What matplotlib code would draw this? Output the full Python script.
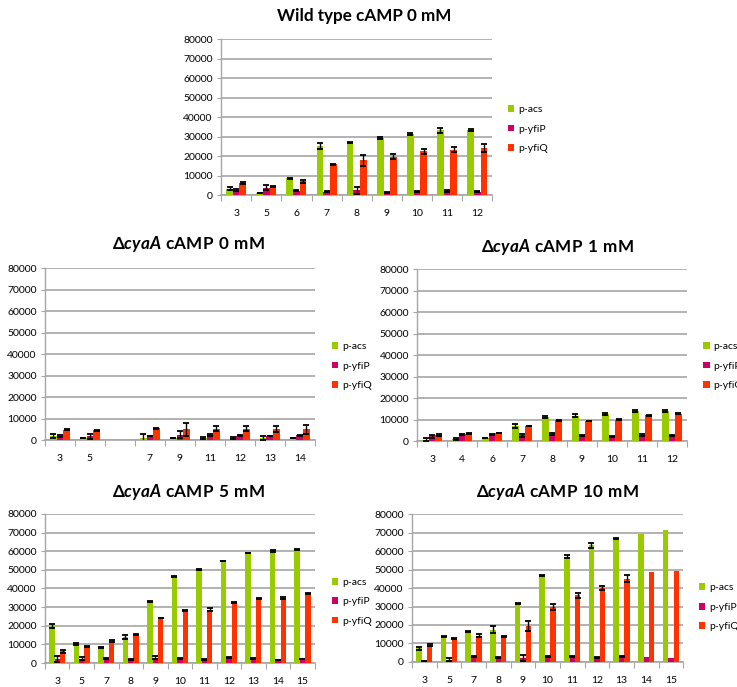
import numpy as np
import matplotlib
matplotlib.use("Agg")
import matplotlib.pyplot as plt
from matplotlib.patches import Patch

plt.rcParams['font.family'] = ['Lato', 'DejaVu Sans']
plt.rcParams['mathtext.fontset'] = 'custom'
plt.rcParams['mathtext.bf'] = 'Lato:bold'
plt.rcParams['mathtext.bfit'] = 'Lato:italic:bold'
plt.rcParams['mathtext.rm'] = 'Lato'

series_names = ["p-acs", "p-yfiP", "p-yfiQ"]
series_colors = ["#99cc00", "#cc0066", "#ff3300"]

# Wild type, cAMP 0 mM
wt_labels = ["3", "5", "6", "7", "8", "9", "10", "11", "12"]
wt_acs = [3300, 1000, 8600, 25000, 27000, 29300, 31400, 33200, 33400]
wt_acs_err = [800, 100, 300, 1500, 300, 500, 700, 1200, 300]
wt_yfiP = [2800, 3800, 2200, 1800, 2500, 1400, 1800, 2000, 1700]
wt_yfiP_err = [500, 1200, 300, 200, 1800, 200, 200, 500, 200]
wt_yfiQ = [6100, 4500, 7000, 15900, 17800, 19800, 22500, 23300, 24000]
wt_yfiQ_err = [400, 400, 900, 200, 2800, 1500, 1300, 1400, 2000]

# cyaA deletion, cAMP 0 mM (one empty slot in the series)
c0_labels = ["3", "5", "", "7", "9", "11", "12", "13", "14"]
c0_acs = [1900, 900, np.nan, 1000, 900, 1000, 1000, 1000, 900]
c0_acs_err = [800, 100, np.nan, 1800, 100, 300, 300, 900, 100]
c0_yfiP = [2000, 1700, np.nan, 1900, 2500, 2300, 2100, 1900, 2200]
c0_yfiP_err = [400, 1000, np.nan, 100, 1500, 300, 100, 100, 100]
c0_yfiQ = [4800, 4500, np.nan, 5500, 5000, 5300, 5300, 5000, 5000]
c0_yfiQ_err = [300, 200, np.nan, 200, 3000, 1200, 1200, 1400, 2000]

# cyaA deletion, cAMP 1 mM
c1_labels = ["3", "4", "6", "7", "8", "9", "10", "11", "12"]
c1_acs = [700, 900, 1400, 7000, 11300, 11800, 12600, 13900, 14000]
c1_acs_err = [500, 500, 200, 1000, 500, 800, 300, 400, 300]
c1_yfiP = [2300, 3200, 3000, 2700, 3300, 2600, 2200, 2800, 2600]
c1_yfiP_err = [700, 300, 300, 600, 300, 200, 100, 300, 200]
c1_yfiQ = [2800, 3500, 3700, 7000, 9600, 9400, 10000, 12000, 12700]
c1_yfiQ_err = [300, 300, 100, 200, 200, 100, 200, 300, 200]

# cyaA deletion, cAMP 5 mM
c5_labels = ["3", "5", "7", "8", "9", "10", "11", "12", "13", "14", "15"]
c5_acs = [20000, 10200, 8300, 14000, 33000, 46500, 50200, 54800, 59000, 60000, 61000]
c5_acs_err = [1000, 400, 200, 1000, 300, 300, 500, 200, 200, 500, 200]
c5_yfiP = [2200, 2400, 2400, 2000, 2800, 2200, 1700, 2800, 2200, 1600, 2200]
c5_yfiP_err = [1600, 900, 300, 200, 900, 300, 200, 200, 300, 200, 200]
c5_yfiQ = [6200, 8800, 11800, 15500, 24200, 28200, 28500, 32600, 34700, 35000, 37300]
c5_yfiQ_err = [800, 300, 300, 300, 200, 400, 800, 200, 300, 500, 400]

# cyaA deletion, cAMP 10 mM (last two points have no error bars)
c10_labels = ["3", "5", "7", "8", "9", "10", "11", "12", "13", "14", "15"]
c10_acs = [7300, 13800, 16600, 17500, 31700, 46600, 57000, 63000, 66800, 69300, 71300]
c10_acs_err = [800, 200, 200, 1800, 300, 300, 800, 1400, 200, np.nan, np.nan]
c10_yfiP = [700, 1300, 2800, 2500, 2300, 3000, 2800, 2300, 3100, 2500, 2200]
c10_yfiP_err = [100, 1000, 300, 200, 1600, 300, 300, 300, 300, np.nan, np.nan]
c10_yfiQ = [9300, 12600, 14300, 13900, 19300, 29800, 36000, 40000, 45000, 48700, 49200]
c10_yfiQ_err = [600, 200, 900, 200, 2800, 1500, 1200, 1200, 2000, np.nan, np.nan]

panels = [
    dict(title=r"Wild type cAMP 0 mM", math=False, labels=wt_labels,
         vals=[wt_acs, wt_yfiP, wt_yfiQ], errs=[wt_acs_err, wt_yfiP_err, wt_yfiQ_err],
         rect=[0.300, 0.716, 0.368, 0.227], title_xy=(0.494, 0.976), leg_xy=(0.689, 0.812)),
    dict(title=r"$\mathbf{\Delta}\mathbfit{cyaA}\mathbf{\ cAMP\ 0\ mM}$", math=True, labels=c0_labels,
         vals=[c0_acs, c0_yfiP, c0_yfiQ], errs=[c0_acs_err, c0_yfiP_err, c0_yfiQ_err],
         rect=[0.061, 0.3595, 0.366, 0.250], title_xy=(0.256, 0.645), leg_xy=(0.450, 0.467)),
    dict(title=r"$\mathbf{\Delta}\mathbfit{cyaA}\mathbf{\ cAMP\ 1\ mM}$", math=True, labels=c1_labels,
         vals=[c1_acs, c1_yfiP, c1_yfiQ], errs=[c1_acs_err, c1_yfiP_err, c1_yfiQ_err],
         rect=[0.566, 0.358, 0.366, 0.250], title_xy=(0.757, 0.641), leg_xy=(0.954, 0.467)),
    dict(title=r"$\mathbf{\Delta}\mathbfit{cyaA}\mathbf{\ cAMP\ 5\ mM}$", math=True, labels=c5_labels,
         vals=[c5_acs, c5_yfiP, c5_yfiQ], errs=[c5_acs_err, c5_yfiP_err, c5_yfiQ_err],
         rect=[0.061, 0.0349, 0.366, 0.217], title_xy=(0.255, 0.284), leg_xy=(0.450, 0.124)),
    dict(title=r"$\mathbf{\Delta}\mathbfit{cyaA}\mathbf{\ cAMP\ 10\ mM}$", math=True, labels=c10_labels,
         vals=[c10_acs, c10_yfiP, c10_yfiQ], errs=[c10_acs_err, c10_yfiP_err, c10_yfiQ_err],
         rect=[0.559, 0.0364, 0.368, 0.2154], title_xy=(0.756, 0.284), leg_xy=(0.948, 0.116)),
]

fig = plt.figure(figsize=(7.37, 6.87), dpi=100)
fig.patch.set_facecolor("white")

grid_color = "#a6a6a6"
bar_w = 0.22
tick_fs = 7.5
title_fs = 12.3

for p in panels:
    ax = fig.add_axes(p["rect"])
    n = len(p["labels"])
    x = np.arange(n)
    for k, (vals, errs, color) in enumerate(zip(p["vals"], p["errs"], series_colors)):
        xs = x + (k - 1) * bar_w
        ax.bar(xs, vals, width=bar_w, color=color, zorder=3)
        ax.errorbar(xs, vals, yerr=errs, fmt="none", ecolor="black",
                    elinewidth=1.0, capsize=2.2, capthick=1.3, zorder=4)
    ax.set_xlim(-0.5, n - 0.5)
    ax.set_ylim(0, 80000)
    ax.set_yticks(np.arange(0, 80001, 10000))
    ax.yaxis.grid(True, color=grid_color, lw=1.2, zorder=0)
    for s in ["top", "right"]:
        ax.spines[s].set_visible(False)
    ax.spines["left"].set_color(grid_color)
    ax.spines["bottom"].set_color(grid_color)
    ax.spines["left"].set_linewidth(1.0)
    ax.spines["bottom"].set_linewidth(1.2)
    # boundaries between categories carry the tick marks
    ax.set_xticks(np.arange(-0.5, n, 1.0))
    ax.set_xticklabels([])
    ax.tick_params(axis="x", which="major", length=4, color=grid_color, direction="out")
    ax.set_xticks(x, minor=True)
    ax.set_xticklabels(p["labels"], minor=True, fontsize=tick_fs)
    ax.tick_params(axis="x", which="minor", length=0, pad=10)
    ax.tick_params(axis="y", length=3, color=grid_color, labelsize=tick_fs, pad=3)
    ax.set_axisbelow(True)

    if p["math"]:
        fig.text(p["title_xy"][0], p["title_xy"][1], p["title"], ha="center", va="center",
                 fontsize=title_fs)
    else:
        fig.text(p["title_xy"][0], p["title_xy"][1], p["title"], ha="center", va="center",
                 fontsize=title_fs, fontweight="bold")

    handles = [Patch(facecolor=c, edgecolor="none") for c in series_colors]
    fig.legend(handles, series_names, loc="center left", bbox_to_anchor=p["leg_xy"],
               bbox_transform=fig.transFigure, frameon=False, fontsize=tick_fs,
               handlelength=0.62, handleheight=0.62, handletextpad=0.35,
               labelspacing=1.0, borderpad=0, borderaxespad=0)

fig.savefig("out.png", dpi=100, facecolor="white")
